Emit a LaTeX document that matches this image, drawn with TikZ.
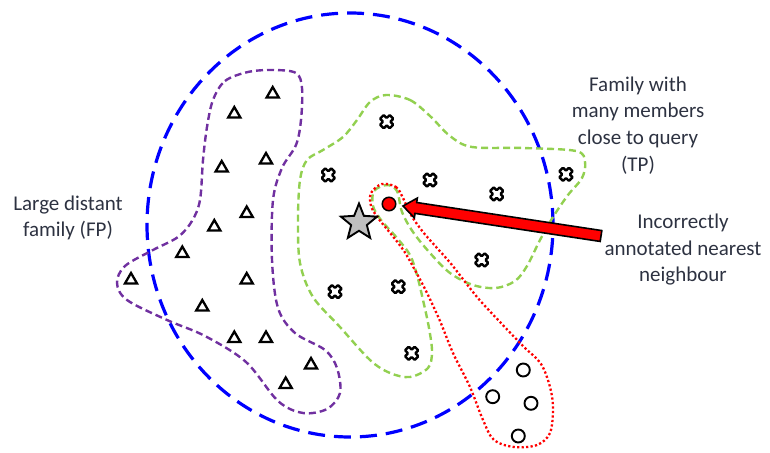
\documentclass[tikz,border=0pt]{standalone}
\usepackage{fontspec}
\setmainfont{Carlito}
\usetikzlibrary{shapes.geometric,calc}
\definecolor{blueC}{RGB}{0,0,255}
\definecolor{purpleC}{RGB}{112,48,160}
\definecolor{greenC}{RGB}{146,208,80}
\definecolor{redC}{RGB}{255,0,0}
\definecolor{starC}{RGB}{191,191,191}
\definecolor{textC}{RGB}{45,50,65}
\begin{document}
\begin{tikzpicture}[x=1pt,y=-1pt,
  querycircle/.style={draw=blueC, line width=3.2pt, dash pattern=on 17pt off 9pt},
  famline/.style={line width=2.4pt, dash pattern=on 7pt off 4pt},
  fpline/.style={famline, draw=purpleC},
  tpline/.style={famline, draw=greenC},
  nnline/.style={draw=redC, line width=2.3pt, dash pattern=on 2.2pt off 2.3pt},
  tri/.style={regular polygon, regular polygon sides=3, draw=black, fill=white,
    line width=2.3pt, minimum size=14pt, inner sep=0pt},
  ring/.style={circle, draw=black, fill=white, line width=1.9pt, minimum size=13pt, inner sep=0pt},
  nndot/.style={circle, draw=black, fill=redC, line width=1.5pt, minimum size=13.5pt, inner sep=0pt},
  querystar/.style={star, star points=5, star point ratio=2.3, draw=black, fill=starC,
    line width=1.9pt, minimum size=38pt, inner sep=0pt},
  xmark/.pic={\draw[line width=2.4pt, fill=white, rounded corners=0.8pt, rotate=45]
    (-2.6,-6.8) -- (2.6,-6.8) -- (2.6,-2.6) -- (6.8,-2.6) -- (6.8,2.6) -- (2.6,2.6) -- (2.6,6.8)
    -- (-2.6,6.8) -- (-2.6,2.6) -- (-6.8,2.6) -- (-6.8,-2.6) -- (-2.6,-2.6) -- cycle;},
  lbl/.style={font=\fontsize{21}{26}\selectfont, text=textC, inner sep=0pt, anchor=base},
  arrowfill/.style={fill=redC, draw=black, line width=1.6pt, line join=miter}
]
\useasboundingbox (0,0) rectangle (770,452);

% query radius
\draw[querycircle] (350,225) ellipse [x radius=203pt, y radius=212pt];

% FP family outline
\draw[fpline] plot[smooth cycle, tension=0.55] coordinates {
 (213,100) (225,81) (248,72) (273,70) (296,73) (302,88) (301,120) (296,145) (282,168)
 (273,200) (272,260) (278,308) (295,333) (325,350) (337,368) (340,393) (327,409)
 (303,413) (278,401) (246,362) (205,336) (167,320) (127,300) (117,283) (125,266)
 (153,250) (178,237) (192,221) (200,200) (203,160) (207,127)};

% TP family outline
\draw[tpline] plot[smooth cycle, tension=0.55] coordinates {
 (386,95) (410,100) (430,116) (450,136) (472,147) (523,148) (576,151) (585,162)
 (582,178) (568,195) (553,217) (540,240) (527,266) (515,281) (496,288) (473,285)
 (450,273) (430,253) (413,232) (402,212) (397,191) (387,185) (374,191) (373,206)
 (381,220) (397,238) (410,255) (417,275) (423,300) (429,328) (432,352) (428,368)
 (410,377) (390,373) (370,360) (340,327) (313,297) (300,263) (298,220) (300,180)
 (307,160) (323,150) (343,137) (357,120) (370,102)};

% nearest neighbour family outline
\draw[nnline] plot[smooth cycle, tension=0.55] coordinates {
 (382,184) (396,187) (403,198) (411,215) (423,232) (437,248) (452,265) (477,297)
 (500,322) (523,346) (541,364) (550,387) (553,408) (550,433) (537,445) (514,447)
 (494,440) (483,420) (470,387) (453,353) (440,321) (427,293) (416,272) (404,251)
 (391,234) (378,218) (371,206) (371,193)};

% FP members
\foreach \i/\p in {1/{(272.7,94)},2/{(234.3,114)},3/{(266,160)},4/{(221.7,168)},
  5/{(246.7,213.5)},6/{(214.3,227)},7/{(182.3,253.5)},8/{(131,280)},9/{(246.7,280)},
  10/{(202.3,307)},11/{(234.3,338.5)},12/{(266,338.5)},13/{(311,365)},14/{(285.7,384.5)}}
  \node[tri] (t\i) at \p {};

% TP members
\foreach \i/\p in {1/{(386.7,121.7)},2/{(328.3,175)},3/{(430,180)},4/{(496.7,194)},
  5/{(566,174.3)},6/{(481.7,260)},7/{(398.3,286.7)},8/{(335,291.7)},9/{(411.7,353.3)}}
  \pic (x\i) at \p {xmark};

% far members of the nearest neighbour's family
\node[ring] (c1) at (523.3,370) {};
\node[ring] (c2) at (492.7,396.7) {};
\node[ring] (c3) at (531,403.3) {};
\node[ring] (c4) at (518.3,436) {};

% query and nearest neighbour
\node[querystar] (query) at (359,222.5) {};
\node[nndot] (nn) at (389,204) {};

% labels
\node[lbl] (fp1) at (68,210) {Large distant};
\node[lbl] (fp2) at (68,236.5) {family (FP)};
\node[lbl] (tp1) at (638,91) {Family with};
\node[lbl] (tp2) at (638,117.5) {many members};
\node[lbl] (tp3) at (638,144.5) {close to query};
\node[lbl] (tp4) at (638,171) {(TP)};
\node[lbl] (in1) at (683,228) {Incorrectly};
\node[lbl] (in2) at (683,255) {annotated nearest};
\node[lbl] (in3) at (683,281.5) {neighbour};

% arrow to the nearest neighbour
\coordinate (tip) at (403,206);
\coordinate (tail) at (601,236);
\coordinate (hb) at ($(tip)!13pt!(tail)$);
\filldraw[arrowfill] (tip) -- ($(hb)!10pt!90:(tip)$) -- ($(hb)!5.5pt!90:(tip)$)
  -- ($(tail)!5.5pt!90:(tip)$) -- ($(tail)!5.5pt!-90:(tip)$)
  -- ($(hb)!5.5pt!-90:(tip)$) -- ($(hb)!10pt!-90:(tip)$) -- cycle;
\end{tikzpicture}
\end{document}
